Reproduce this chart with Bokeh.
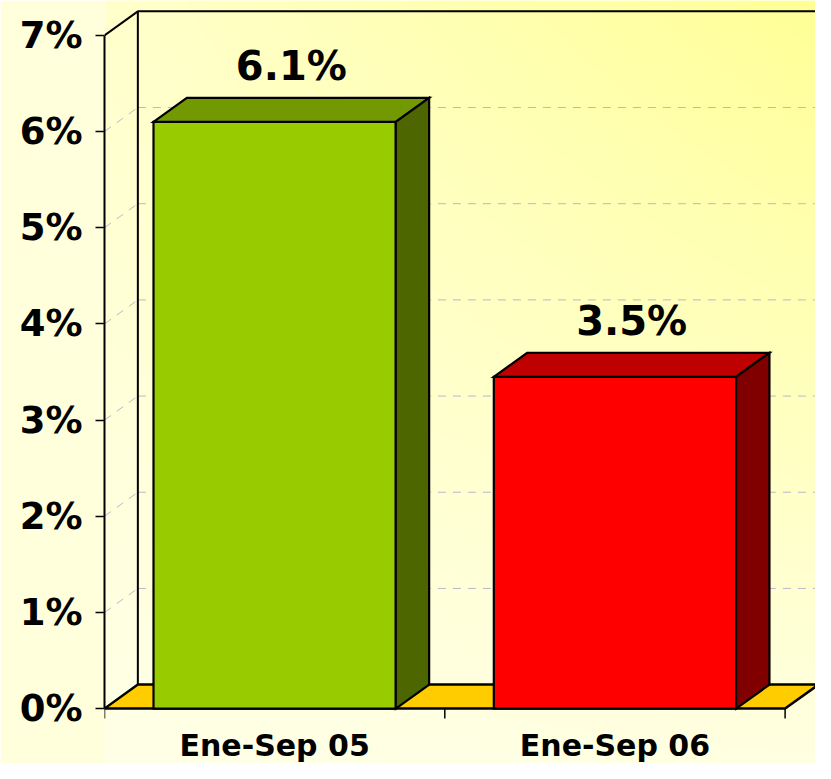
import numpy as np
from bokeh.plotting import figure
from bokeh.models import Range1d, FixedTicker
from bokeh.core.properties import value
from bokeh.embed import file_html
from bokeh.resources import INLINE

# ---------------- data ----------------
categories = ["Ene-Sep 05", "Ene-Sep 06"]
values = [6.1, 3.45]
value_labels = ["6.1%", "3.5%"]
front_colors = ["#99CC00", "#FF0000"]
top_colors = ["#739900", "#BF0000"]
side_colors = ["#4D6600", "#800000"]
y_ticks = [0, 1, 2, 3, 4, 5, 6, 7]
y_tick_labels = ["0%", "1%", "2%", "3%", "4%", "5%", "6%", "7%"]

# ---------------- geometry ----------------
W, H = 815, 763
LEFT = 104           # px of left border (axis area)
PX_X = 340.3         # px per category
PX_Y = 96.18         # px per percent
ZERO_CY = 708.1      # canvas y of 0%
n = len(categories)
x_start, x_end = 0.0, (W - LEFT) / PX_X
y_start, y_end = (ZERO_CY - H) / PX_Y, ZERO_CY / PX_Y
DX = 0.098
DY = 0.2495
BAR_W = 0.712
YMAX = y_ticks[-1]
TICK = 9.8 / PX_Y

p = figure(width=W, height=H, x_range=Range1d(x_start, x_end),
           y_range=Range1d(y_start, y_end), output_backend="svg",
           toolbar_location=None, x_axis_location=None, y_axis_location="left",
           min_border_left=LEFT, min_border_right=0, min_border_top=0,
           min_border_bottom=0)
p.outline_line_color = None
p.grid.visible = False
p.border_fill_color = "#FFFFDC"
p.background_fill_color = "#FFFFD8"

# ---------------- background gradient ----------------
nx, ny = 180, 190
img = np.empty((ny, nx), dtype=np.uint32)
view = img.view(dtype=np.uint8).reshape((ny, nx, 4))
xs_c = x_start + (np.arange(nx) + 0.5) / nx * (x_end - x_start)
ys_c = y_start + (np.arange(ny) + 0.5) / ny * (y_end - y_start)
Xi = LEFT + xs_c * PX_X
Yi = ZERO_CY - ys_c * PX_Y
u = np.clip(Xi / W, 0, 1)[None, :]
v = np.clip(Yi / H, 0, 1)[:, None]
tl, tr, bl, br = 212, 150, 232, 226
top = tl + (tr - tl) * u
bot = bl + (br - bl) * u
B = top + (bot - top) * v
view[:, :, 0] = 255
view[:, :, 1] = 255
view[:, :, 2] = np.clip(B, 0, 255).astype(np.uint8)
view[:, :, 3] = 255
p.image_rgba(image=[img], x=x_start, y=y_start, dw=x_end - x_start, dh=y_end - y_start)

# ---------------- walls and gridlines ----------------
grid_levels = y_ticks[1:-1]
p.segment(x0=[DX] * len(grid_levels), x1=[n + DX] * len(grid_levels),
          y0=[g + DY for g in grid_levels], y1=[g + DY for g in grid_levels],
          line_color="#B8B8CC", line_width=1, line_dash="8 7")
p.segment(x0=[0] * len(grid_levels), x1=[DX] * len(grid_levels),
          y0=grid_levels, y1=[g + DY for g in grid_levels],
          line_color="#B8B8CC", line_width=1, line_dash="8 7")

# back wall outline
p.line(x=[DX, DX, n + DX], y=[DY, YMAX + DY, YMAX + DY], line_color="black", line_width=2)
p.line(x=[0, DX], y=[YMAX, YMAX + DY], line_color="black", line_width=2)

# floor
p.patch(x=[0, n, n + DX, DX], y=[0, 0, DY, DY], fill_color="#FFCC00",
        line_color="black", line_width=2.5, line_join="miter")

# category boundary ticks
bounds = list(range(n + 1))
p.segment(x0=bounds, x1=bounds, y0=[0] * len(bounds), y1=[-TICK] * len(bounds),
          line_color="black", line_width=1.5)

# ---------------- 3D bars ----------------
fx, fy, tx, ty, sx, sy = [], [], [], [], [], []
for i, val in enumerate(values):
    c = i + 0.5
    a, b = c - BAR_W / 2, c + BAR_W / 2
    fx.append([a, b, b, a]); fy.append([0, 0, val, val])
    tx.append([a, b, b + DX, a + DX]); ty.append([val, val, val + DY, val + DY])
    sx.append([b, b + DX, b + DX, b]); sy.append([0, DY, val + DY, val])
p.patches(xs=fx, ys=fy, fill_color=front_colors, line_color="black", line_width=2.2, line_join="miter")
p.patches(xs=tx, ys=ty, fill_color=top_colors, line_color="black", line_width=2.2, line_join="miter")
p.patches(xs=sx, ys=sy, fill_color=side_colors, line_color="black", line_width=2.2, line_join="miter")

# value labels
p.text(x=[i + 0.5 + DX / 2 for i in range(n)], y=[val + DY for val in values],
       text=value_labels, text_align="center", text_baseline="middle",
       y_offset=-32, text_font=value("DejaVu Sans"), text_font_style="bold",
       text_font_size="40px", text_color="black")

# category labels
p.text(x=[i + 0.5 for i in range(n)], y=[0] * n, text=categories,
       text_align="center", text_baseline="middle", y_offset=37,
       text_font=value("DejaVu Sans"), text_font_style="bold",
       text_font_size="30px", text_color="black")

# ---------------- y axis ----------------
ax = p.yaxis[0]
ax.ticker = FixedTicker(ticks=y_ticks)
ax.major_label_overrides = {t: l for t, l in zip(y_ticks, y_tick_labels)}
ax.bounds = (0, YMAX)
ax.axis_line_color = "black"
ax.axis_line_width = 2
ax.major_tick_line_color = "black"
ax.major_tick_line_width = 1.5
ax.major_tick_in = 0
ax.major_tick_out = 9
ax.minor_tick_line_color = None
ax.major_label_standoff = 13
ax.major_label_text_font = "DejaVu Sans"
ax.major_label_text_font_style = "bold"
ax.major_label_text_font_size = "37px"
ax.major_label_text_color = "black"

open("out.html", "w").write(file_html(p, INLINE))
